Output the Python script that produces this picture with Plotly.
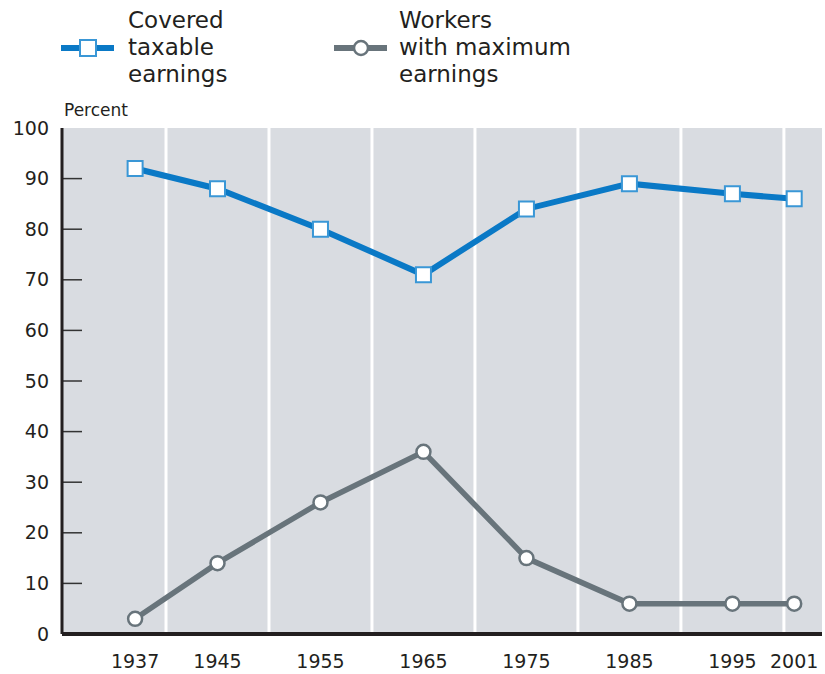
import plotly.graph_objects as go

years = [1937, 1945, 1955, 1965, 1975, 1985, 1995, 2001]
covered_taxable = [92, 88, 80, 71, 84, 89, 87, 86]
workers_max = [3, 14, 26, 36, 15, 6, 6, 6]
y_ticks = [0, 10, 20, 30, 40, 50, 60, 70, 80, 90, 100]
grid_years = [1940, 1950, 1960, 1970, 1980, 1990, 2000]
legend_covered = ["Covered", "taxable", "earnings"]
legend_workers = ["Workers", "with maximum", "earnings"]

BLUE = "#0a79c6"
BLUE_EDGE = "#3a97d6"
GRAY = "#68747b"
BG = "#d9dce1"
FONT = "DejaVu Sans"
TXT = "#231f20"

W, H = 825, 674
L, R, T, B = 62, 3, 128, 40
PW, PH = W - L - R, H - T - B

def px(x):
    return (x - L) / PW

def py(y):
    return (H - B - y) / PH

fig = go.Figure()

fig.add_trace(go.Scatter(
    x=years, y=covered_taxable, mode="lines+markers",
    line=dict(color=BLUE, width=6),
    marker=dict(symbol="square", size=15, color="white",
                line=dict(color=BLUE_EDGE, width=2)),
    showlegend=False, cliponaxis=False,
))
fig.add_trace(go.Scatter(
    x=years, y=workers_max, mode="lines+markers",
    line=dict(color=GRAY, width=5.5),
    marker=dict(symbol="circle", size=14, color="white",
                line=dict(color=GRAY, width=2.5)),
    showlegend=False, cliponaxis=False,
))

shapes = []
for g in grid_years:
    shapes.append(dict(type="line", xref="x", yref="paper", x0=g, x1=g, y0=0, y1=1,
                       line=dict(color="white", width=3), layer="below"))
for t in y_ticks[1:-1]:
    shapes.append(dict(type="line", xref="paper", yref="y", x0=0, x1=20 / PW, y0=t, y1=t,
                       line=dict(color="#333333", width=1.5), layer="above"))

annotations = []
def legend_item(x0, x1, xc, xtxt, symbol, lines, lc, ec, lw):
    yc = py(48)
    shapes.append(dict(type="line", xref="paper", yref="paper", x0=px(x0), x1=px(x1),
                       y0=yc, y1=yc, line=dict(color=lc, width=lw)))
    if symbol == "square":
        r = 8
        shapes.append(dict(type="rect", xref="paper", yref="paper",
                           x0=px(xc - r), x1=px(xc + r), y0=py(48 + r), y1=py(48 - r),
                           fillcolor="white", line=dict(color=ec, width=2)))
    else:
        r = 7
        shapes.append(dict(type="circle", xref="paper", yref="paper",
                           x0=px(xc - r), x1=px(xc + r), y0=py(48 + r), y1=py(48 - r),
                           fillcolor="white", line=dict(color=ec, width=2.5)))
    for i, s in enumerate(lines):
        annotations.append(dict(text=s, xref="paper", yref="paper", x=px(xtxt),
                                y=py(20 + 27 * i), xanchor="left", yanchor="middle",
                                showarrow=False, font=dict(family=FONT, size=23, color=TXT)))

legend_item(61, 114, 88, 126, "square", legend_covered, BLUE, BLUE_EDGE, 6)
legend_item(334, 387, 361, 397, "circle", legend_workers, GRAY, GRAY, 6)

annotations.append(dict(text="Percent", xref="paper", yref="paper", x=px(62), y=py(110),
                        xanchor="left", yanchor="middle", showarrow=False,
                        font=dict(family=FONT, size=17, color=TXT)))

fig.update_layout(
    width=W, height=H,
    margin=dict(l=L, r=R, t=T, b=B, pad=0),
    paper_bgcolor="white", plot_bgcolor=BG,
    shapes=shapes, annotations=annotations,
    xaxis=dict(range=[1929.9, 2003.7], tickmode="array", tickvals=years,
               ticktext=[str(y) for y in years], showgrid=False, zeroline=False,
               ticks="", showline=False, automargin=False,
               tickfont=dict(family=FONT, size=19, color=TXT), ticklabelstandoff=14),
    yaxis=dict(range=[0, 100], tickmode="array", tickvals=y_ticks,
               ticktext=[str(t) for t in y_ticks], showgrid=False, zeroline=False,
               ticks="", showline=False, automargin=False,
               tickfont=dict(family=FONT, size=19, color=TXT), ticklabelstandoff=12),
)
fig.add_shape(type="line", xref="paper", yref="paper", x0=0, x1=1, y0=0, y1=0,
              line=dict(color="#231f20", width=4))
fig.add_shape(type="line", xref="paper", yref="paper", x0=0, x1=0, y0=0, y1=1,
              line=dict(color="#231f20", width=3))

fig.write_html("out.html", config={"displayModeBar": False},
               post_script="document.body.style.margin='0';document.body.style.overflow='hidden';")
